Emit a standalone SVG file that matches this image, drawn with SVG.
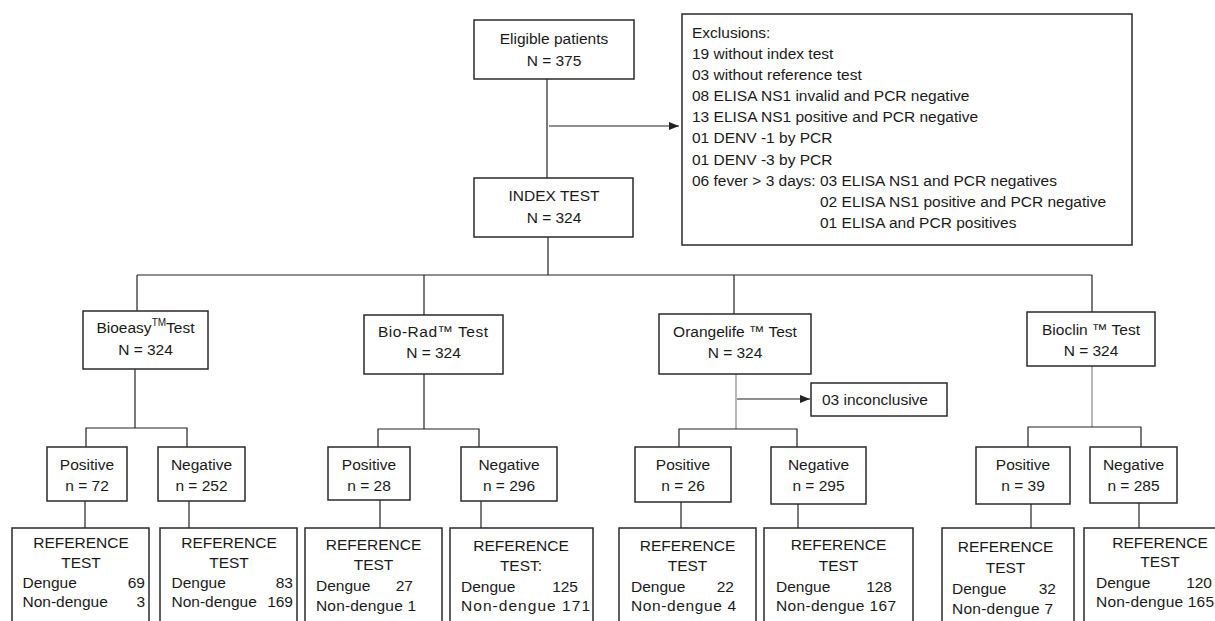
<svg xmlns="http://www.w3.org/2000/svg" width="1215" height="621" viewBox="0 0 1215 621">
<defs>
<style>
text{font-family:"Liberation Sans",Arial,sans-serif;font-size:15.5px;fill:#1a1a1a}
.c{text-anchor:middle}
.e{text-anchor:end}
rect{fill:#fff;stroke:#2a2a2a;stroke-width:1.5}
.ln line,.ln path{stroke:#222;stroke-width:1.2;fill:none}
.ln .g{stroke:#888}
</style>
<marker id="ah" viewBox="0 0 10 10" refX="10" refY="5" markerWidth="10" markerHeight="10" markerUnits="userSpaceOnUse" orient="auto">
<path d="M0,1 L10,5 L0,9 z" fill="#222"/>
</marker>
</defs>
<rect x="0" y="0" width="1215" height="621" style="fill:#fff;stroke:none"/>

<g id="connectors" class="ln">
<line x1="547" y1="79" x2="547" y2="178"/>
<line x1="549" y1="126" x2="679" y2="126" marker-end="url(#ah)"/>
<line x1="548" y1="237" x2="548" y2="275"/>
<line x1="137" y1="275" x2="1092" y2="275"/>
<line x1="137" y1="275" x2="137" y2="311"/>
<line x1="424" y1="275" x2="424" y2="315"/>
<line x1="734" y1="275" x2="734" y2="314"/>
<line x1="1092" y1="275" x2="1092" y2="312"/>
<line x1="135" y1="369" x2="135" y2="428"/>
<path d="M86,447 V428 H187 V447"/>
<line x1="424" y1="374" x2="424" y2="429"/>
<path d="M378,447 V429 H479 V447"/>
<line class="g" x1="736" y1="374" x2="736" y2="429"/>
<line x1="737" y1="399" x2="810" y2="399" marker-end="url(#ah)"/>
<path d="M679,447 V429 H797 V447"/>
<line class="g" x1="1092" y1="366" x2="1092" y2="427"/>
<path d="M1028,447 V427 H1141 V447"/>
<line x1="85" y1="501" x2="85" y2="528"/>
<line x1="189" y1="501" x2="189" y2="528"/>
<line x1="380" y1="500" x2="380" y2="528"/>
<line x1="481" y1="501" x2="481" y2="528"/>
<line x1="681" y1="502" x2="681" y2="528"/>
<line x1="798" y1="504" x2="798" y2="528"/>
<line x1="1031" y1="504" x2="1031" y2="528"/>
<line x1="1139" y1="503" x2="1139" y2="528"/>
</g>

<g id="eligible">
<rect x="474" y="20" width="160" height="59"/>
<text class="c" x="554" y="44">Eligible patients</text>
<text class="c" x="554" y="66">N = 375</text>
</g>

<g id="exclusions">
<rect x="682" y="14" width="450" height="231"/>
<text x="692" y="38">Exclusions:</text>
<text x="692" y="59">19 without index test</text>
<text x="692" y="80">03 without reference test</text>
<text x="692" y="101">08 ELISA NS1 invalid and PCR negative</text>
<text x="692" y="122">13 ELISA NS1 positive and PCR negative</text>
<text x="692" y="143">01 DENV -1 by PCR</text>
<text x="692" y="165">01 DENV -3 by PCR</text>
<text x="692" y="186">06 fever &gt; 3 days: 03 ELISA NS1 and PCR negatives</text>
<text x="820" y="207">02 ELISA NS1 positive and PCR negative</text>
<text x="820" y="228">01 ELISA and PCR positives</text>
</g>

<g id="index">
<rect x="474" y="178" width="159" height="59"/>
<text class="c" x="554" y="201">INDEX TEST</text>
<text class="c" x="554" y="223">N = 324</text>
</g>

<g id="bioeasy">
<rect x="83" y="311" width="125" height="58"/>
<text class="c" x="145.5" y="333">Bioeasy<tspan font-size="10" dy="-7">TM</tspan><tspan dy="7">Test</tspan></text>
<text class="c" x="145.5" y="355">N = 324</text>
</g>
<g id="biorad">
<rect x="364" y="315" width="139" height="59"/>
<text x="378" y="337" textLength="110" lengthAdjust="spacing">Bio-Rad™ Test</text>
<text class="c" x="433.5" y="358">N = 324</text>
</g>
<g id="orangelife">
<rect x="659" y="314" width="152" height="60"/>
<text class="c" x="735" y="337">Orangelife ™ Test</text>
<text class="c" x="735" y="358">N = 324</text>
</g>
<g id="bioclin">
<rect x="1027" y="312" width="128" height="54"/>
<text class="c" x="1091" y="335">Bioclin ™ Test</text>
<text class="c" x="1091" y="356">N = 324</text>
</g>
<g id="inconclusive">
<rect x="811" y="383" width="136" height="33"/>
<text x="822" y="405">03 inconclusive</text>
</g>

<g id="bioeasy-pos">
<rect x="47" y="447" width="80" height="54"/>
<text class="c" x="87" y="469.5">Positive</text>
<text class="c" x="87" y="490.5">n = 72</text>
</g>
<g id="bioeasy-neg">
<rect x="158" y="447" width="87" height="54"/>
<text class="c" x="201.5" y="469.5">Negative</text>
<text class="c" x="201.5" y="490.5">n = 252</text>
</g>
<g id="biorad-pos">
<rect x="328" y="447" width="82" height="53"/>
<text class="c" x="369" y="469.5">Positive</text>
<text class="c" x="369" y="490.5">n = 28</text>
</g>
<g id="biorad-neg">
<rect x="461" y="447" width="96" height="54"/>
<text class="c" x="509" y="470">Negative</text>
<text class="c" x="509" y="491">n = 296</text>
</g>
<g id="orangelife-pos">
<rect x="635" y="447" width="96" height="55"/>
<text class="c" x="683" y="469.5">Positive</text>
<text class="c" x="683" y="491">n = 26</text>
</g>
<g id="orangelife-neg">
<rect x="771" y="447" width="95" height="57"/>
<text class="c" x="818.5" y="470">Negative</text>
<text class="c" x="818.5" y="491">n = 295</text>
</g>
<g id="bioclin-pos">
<rect x="976" y="447" width="94" height="57"/>
<text class="c" x="1023" y="470">Positive</text>
<text class="c" x="1023" y="491">n = 39</text>
</g>
<g id="bioclin-neg">
<rect x="1090" y="447" width="87" height="56"/>
<text class="c" x="1133.5" y="470">Negative</text>
<text class="c" x="1133.5" y="491">n = 285</text>
</g>

<g id="ref-bioeasy-pos">
<rect x="12" y="528" width="137" height="100"/>
<text class="c" x="81" y="548">REFERENCE</text>
<text class="c" x="81" y="568">TEST</text>
<text x="22.5" y="588">Dengue</text><text class="e" x="145" y="588">69</text>
<text x="22.5" y="607">Non-dengue</text><text class="e" x="145" y="607">3</text>
</g>
<g id="ref-bioeasy-neg">
<rect x="160" y="528" width="137" height="100"/>
<text class="c" x="229" y="548">REFERENCE</text>
<text class="c" x="229" y="568">TEST</text>
<text x="171.5" y="588">Dengue</text><text class="e" x="293" y="588">83</text>
<text x="171.5" y="607">Non-dengue</text><text class="e" x="293" y="607">169</text>
</g>
<g id="ref-biorad-pos">
<rect x="305" y="528" width="137" height="100"/>
<text class="c" x="373.5" y="550">REFERENCE</text>
<text class="c" x="373.5" y="570">TEST</text>
<text x="316" y="591">Dengue</text><text class="e" x="413" y="591">27</text>
<text x="316" y="611" textLength="100" lengthAdjust="spacing">Non-dengue 1</text>
</g>
<g id="ref-biorad-neg">
<rect x="450" y="528" width="143" height="100"/>
<text class="c" x="521" y="551">REFERENCE</text>
<text class="c" x="521" y="571">TEST:</text>
<text x="461" y="592">Dengue</text><text class="e" x="578" y="592">125</text>
<text x="461" y="611" textLength="129" lengthAdjust="spacing">Non-dengue 171</text>
</g>
<g id="ref-orangelife-pos">
<rect x="619" y="528" width="137" height="100"/>
<text class="c" x="687.5" y="551">REFERENCE</text>
<text class="c" x="687.5" y="571">TEST</text>
<text x="631" y="592">Dengue</text><text class="e" x="734" y="592">22</text>
<text x="631" y="611" textLength="105" lengthAdjust="spacing">Non-dengue 4</text>
</g>
<g id="ref-orangelife-neg">
<rect x="764" y="528" width="149" height="100"/>
<text class="c" x="838.5" y="550">REFERENCE</text>
<text class="c" x="838.5" y="571">TEST</text>
<text x="776" y="592">Dengue</text><text class="e" x="892" y="592">128</text>
<text x="776" y="611" textLength="120" lengthAdjust="spacing">Non-dengue 167</text>
</g>
<g id="ref-bioclin-pos">
<rect x="942" y="528" width="132" height="100"/>
<text class="c" x="1005.5" y="552">REFERENCE</text>
<text class="c" x="1005.5" y="573">TEST</text>
<text x="952" y="594">Dengue</text><text class="e" x="1056" y="594">32</text>
<text x="952" y="614" textLength="101" lengthAdjust="spacing">Non-dengue 7</text>
</g>
<g id="ref-bioclin-neg">
<rect x="1084" y="528" width="140" height="100"/>
<text class="c" x="1160" y="548">REFERENCE</text>
<text class="c" x="1160" y="567">TEST</text>
<text x="1096" y="588">Dengue</text><text class="e" x="1212" y="588">120</text>
<text x="1096" y="607" textLength="118" lengthAdjust="spacing">Non-dengue 165</text>
</g>
</svg>
